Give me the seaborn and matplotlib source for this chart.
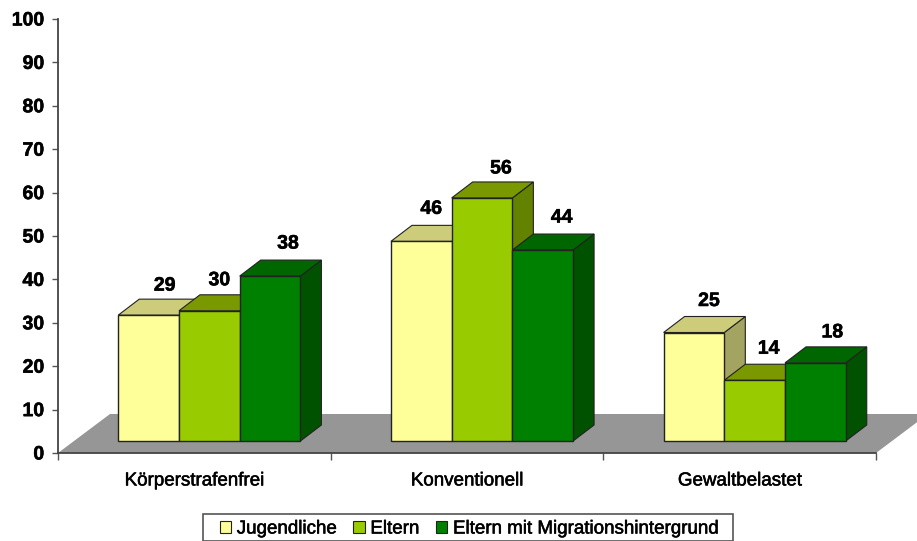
import matplotlib
matplotlib.use("Agg")
import matplotlib.pyplot as plt
import matplotlib.patheffects as pe
from matplotlib.patches import Polygon, Rectangle
import pandas as pd
import seaborn as sns

categories = ["Körperstrafenfrei", "Konventionell", "Gewaltbelastet"]
series_names = ["Jugendliche", "Eltern", "Eltern mit Migrationshintergrund"]
jugendliche = [29, 46, 25]
eltern = [30, 56, 14]
migration = [38, 44, 18]
y_ticks = [0, 10, 20, 30, 40, 50, 60, 70, 80, 90, 100]

front_colors = ["#FFFF99", "#99CC00", "#008000"]
top_colors = ["#CCCC7A", "#7A9900", "#006600"]
side_colors = ["#A3A362", "#628200", "#005200"]

sns.set_theme(style="white")
plt.rcParams["font.family"] = ["Liberation Sans", "DejaVu Sans"]

df = pd.DataFrame({
    "category": categories * 3,
    "series": [s for s in series_names for _ in categories],
    "value": jugendliche + eltern + migration,
})

W, H = 917, 541
fig = plt.figure(figsize=(W / 100, H / 100), dpi=100)
# plot box in pixels: x 58..876, y 19..453
ax = fig.add_axes([58 / W, 1 - 453 / H, (876 - 58) / W, (453 - 19) / H])

sns.barplot(data=df, x="category", y="value", hue="series", order=categories,
            hue_order=series_names, palette=front_colors, width=0.668, gap=0,
            edgecolor="#222222", linewidth=1.0, saturation=1, ax=ax, legend=False)
ax.set_xlim(-0.5, 2.5)
ax.set_ylim(0, 100)

px_x = 3 / (876 - 58)      # data units per pixel, x
px_y = 100 / (453 - 19)    # data units per pixel, y
base = 12 * px_y
shift = 15 * px_x
dx = 21 * px_x
dy = 16 * px_y

# draw the bars left to right so the neighbours overlap properly
bars = sorted(ax.patches, key=lambda b: b.get_x())

# floor of the 3D box
floor = Polygon([(-0.5, 0), (2.5, 0), (2.5 + 52 * px_x, 39 * px_y), (-0.5 + 52 * px_x, 39 * px_y)],
                closed=True, facecolor="#969696", edgecolor="none", zorder=1, clip_on=False)
ax.add_patch(floor)

heavier = [pe.withStroke(linewidth=0.4, foreground="black")]

# label offsets from the top of each bar, in pixels
nudge_x = [16, 10, 18, 10, 19, 19, 15, 14, 17]
nudge_y = [29, 30, 32, 32, 29, 32, 31, 31, 30]
for i, bar in enumerate(bars):
    s = i % 3
    h = bar.get_height()
    x0 = bar.get_x() + shift
    w = bar.get_width()
    bar.set_x(x0)
    bar.set_y(base)
    bar.set_zorder(3 + i * 3 + 2)
    y1 = base + h
    top = Polygon([(x0, y1), (x0 + w, y1), (x0 + w + dx, y1 + dy), (x0 + dx, y1 + dy)], closed=True,
                  facecolor=top_colors[s], edgecolor="#222222", linewidth=0.8, zorder=3 + i * 3 + 1)
    side = Polygon([(x0 + w, base), (x0 + w + dx, base + dy), (x0 + w + dx, y1 + dy), (x0 + w, y1)], closed=True,
                   facecolor=side_colors[s], edgecolor="#222222", linewidth=0.8, zorder=3 + i * 3)
    ax.add_patch(top)
    ax.add_patch(side)
    label = ax.annotate(str(int(h)), (x0 + w / 2, y1), xytext=(nudge_x[i] * 0.72, nudge_y[i] * 0.72),
                        textcoords="offset points", ha="center", va="center", fontsize=14, fontweight="bold",
                        color="black", zorder=100)
    label.set_path_effects(heavier)

sns.despine(ax=ax)
for side_name in ["left", "bottom"]:
    ax.spines[side_name].set_color("#444444")
    ax.spines[side_name].set_linewidth(1.3)
    ax.spines[side_name].set_zorder(2)

ax.set_xlabel("")
ax.set_ylabel("")
ax.set_yticks(y_ticks)
ax.tick_params(axis="y", which="major", left=True, length=4, width=1, color="#555555", pad=6,
               labelsize=14, labelcolor="black")
for t in ax.get_yticklabels():
    t.set_fontweight("bold")
    t.set_path_effects(heavier)
ax.set_xticks([-0.5, 0.5, 1.5, 2.5], labels=[""] * 4)
ax.set_xticks([0, 1, 2], labels=categories, minor=True)
ax.tick_params(axis="x", which="major", bottom=True, length=5, width=1, color="#555555")
ax.tick_params(axis="x", which="minor", bottom=False, length=0, pad=14, labelsize=13.5, labelcolor="black")
for t in ax.get_xticklabels(minor=True):
    t.set_path_effects(heavier)

# legend box runs off the bottom of the picture in the original
fig.add_artist(Rectangle((203 / W, 0), 530 / W, 1 - 514 / H, transform=fig.transFigure,
                         facecolor="white", edgecolor="#555555", linewidth=1.2))
handles = [plt.Rectangle((0, 0), 1, 1, facecolor=c, edgecolor="#222222", linewidth=0.8) for c in front_colors]
leg = fig.legend(handles, series_names, ncol=3, loc="center", bbox_to_anchor=(469 / W, 1 - 529 / H),
                 fontsize=13.5, frameon=False, handlelength=0.6, handleheight=0.6, handletextpad=0.3,
                 columnspacing=0.9, borderpad=0.2, labelcolor="black")
for t in leg.get_texts():
    t.set_path_effects(heavier)

fig.savefig("out.png", dpi=100, facecolor="white")
